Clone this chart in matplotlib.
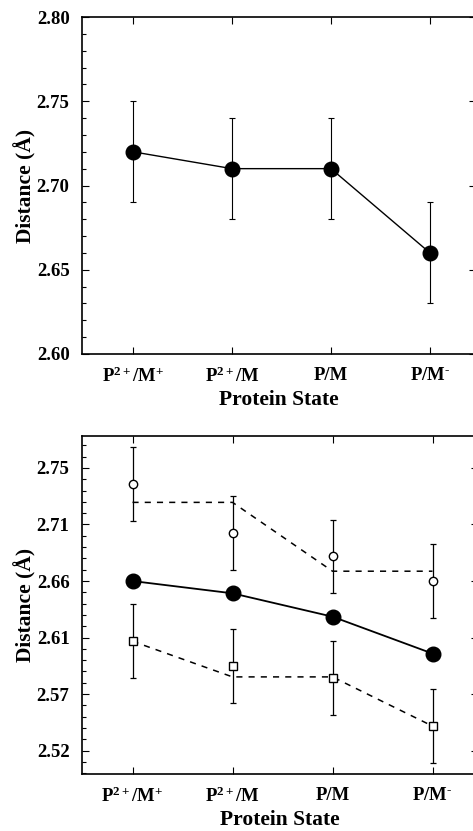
import numpy as np
import matplotlib
matplotlib.use("Agg")
from matplotlib import pyplot as plt
from matplotlib.ticker import FixedLocator, FormatStrFormatter

plt.rcParams['font.family'] = ['Liberation Serif', 'DejaVu Serif']
plt.rcParams['font.weight'] = 'bold'
plt.rcParams['axes.labelweight'] = 'bold'
plt.rcParams['mathtext.fontset'] = 'custom'
plt.rcParams['mathtext.rm'] = 'Liberation Serif:bold'
plt.rcParams['mathtext.it'] = 'Liberation Serif:bold'
plt.rcParams['mathtext.bf'] = 'Liberation Serif:bold'
plt.rcParams['mathtext.default'] = 'rm'

#%% Data
states = [r'P$^{2+}$/M$^{+}$', r'P$^{2+}$/M', 'P/M', r'P/M$^{\text{-}}$']

# top panel
top_dist = [2.72, 2.71, 2.71, 2.66]
top_err = [0.03, 0.03, 0.03, 0.03]

# bottom panel
mid_dist = [2.660, 2.650, 2.631, 2.601]
upper_dist = [2.739, 2.699, 2.680, 2.660]
upper_err = [0.030, 0.030, 0.030, 0.030]
upper_fit = [2.724, 2.724, 2.668, 2.668]
lower_dist = [2.611, 2.591, 2.581, 2.542]
lower_err = [0.030, 0.030, 0.030, 0.030]
lower_fit = [2.611, 2.582, 2.582, 2.542]

bottom_ticks = [2.522, 2.568, 2.614, 2.660, 2.706, 2.752]

x = np.arange(len(states))

fig = plt.figure(figsize=(4.73, 8.31), dpi=100)
ax1 = fig.add_axes([82/473, 1-354/831, 394/473, 337/831])
ax2 = fig.add_axes([82/473, 1-774/831, 396/473, 338/831])


def style(ax):
    ax.set_xticks(x)
    ax.set_xticklabels(states, fontsize=13.5)
    ax.tick_params(which='both', direction='in', top=True, right=True,
                   width=0.8, labelsize=13.5)
    ax.tick_params(which='major', length=5, pad=9)
    ax.tick_params(which='minor', length=3)
    ax.tick_params(axis='x', which='minor', top=False, bottom=False)
    ax.tick_params(axis='y', which='minor', right=False)
    for s in ax.spines.values():
        s.set_linewidth(1.2)
    ax.set_xlabel('Protein State', fontsize=15.5, labelpad=3)
    ax.set_ylabel('Distance (Å)', fontsize=15.5, labelpad=0)


#%% Top panel
ax1.errorbar(x, top_dist, yerr=top_err, color='black', marker='o',
             markersize=10.5, linewidth=1.0, elinewidth=0.8, capsize=2.5,
             capthick=0.8)
ax1.set_xlim(-0.515, 3.465)
ax1.set_ylim(2.60, 2.80)
ax1.yaxis.set_major_locator(FixedLocator([2.60, 2.65, 2.70, 2.75, 2.80]))
ax1.yaxis.set_minor_locator(FixedLocator(np.arange(2.60, 2.801, 0.01)))
ax1.yaxis.set_major_formatter(FormatStrFormatter('%.2f'))
style(ax1)

#%% Bottom panel
ax2.plot(x, upper_fit, color='black', linestyle=(0, (4, 4)), linewidth=1.1)
ax2.plot(x, lower_fit, color='black', linestyle=(0, (4, 4)), linewidth=1.1)
ax2.errorbar(x, upper_dist, yerr=upper_err, color='black', marker='o',
             markersize=6, markerfacecolor='white', linestyle='none',
             elinewidth=0.9, capsize=2.5, capthick=0.9)
ax2.errorbar(x, lower_dist, yerr=lower_err, color='black', marker='s',
             markersize=5.5, markerfacecolor='white', linestyle='none',
             elinewidth=0.9, capsize=2.5, capthick=0.9)
ax2.plot(x, mid_dist, color='black', marker='o', markersize=10.5,
         linewidth=1.3)
ax2.set_xlim(-0.505, 3.455)
ax2.set_ylim(2.503, 2.778)
ax2.yaxis.set_major_locator(FixedLocator(bottom_ticks))
ax2.yaxis.set_minor_locator(FixedLocator(np.arange(2.522 - 0.0092 * 2, 2.78, 0.0092)))
ax2.yaxis.set_major_formatter(FormatStrFormatter('%.2f'))
style(ax2)

fig.savefig('out.png', dpi=100)
